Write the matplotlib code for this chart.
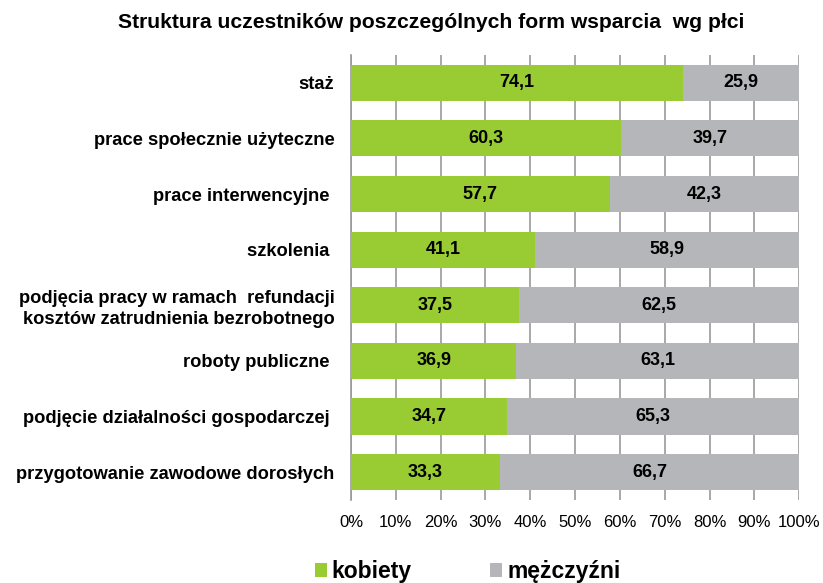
import numpy as np
import matplotlib.pyplot as plt
from matplotlib.ticker import FuncFormatter

plt.rcParams['font.family'] = ['Liberation Sans', 'DejaVu Sans']

# dane
kategorie = ['staż', 'prace społecznie użyteczne', 'prace interwencyjne ', 'szkolenia ',
             'podjęcia pracy w ramach  refundacji\nkosztów zatrudnienia bezrobotnego',
             'roboty publiczne ', 'podjęcie działalności gospodarczej ',
             'przygotowanie zawodowe dorosłych']
kobiety = [74.1, 60.3, 57.7, 41.1, 37.5, 36.9, 34.7, 33.3]
mezczyzni = [25.9, 39.7, 42.3, 58.9, 62.5, 63.1, 65.3, 66.7]

zielony = '#99cc33'
szary = '#b4b6b9'

fig = plt.figure(figsize=(8.23, 5.83), dpi=100)
ax = fig.add_axes([0.4265, 0.1424, 0.5445, 0.7633])

y = np.arange(len(kategorie))
b1 = ax.barh(y, kobiety, height=0.65, color=zielony, label='kobiety', zorder=3)
b2 = ax.barh(y, mezczyzni, left=kobiety, height=0.65, color=szary, label='mężczyźni', zorder=3)

for i in range(len(kategorie)):
    ax.text(kobiety[i] / 2, y[i], f'{kobiety[i]:.1f}'.replace('.', ','), ha='center', va='center',
            fontsize=13, fontweight='bold', zorder=4)
    ax.text(kobiety[i] + mezczyzni[i] / 2, y[i], f'{mezczyzni[i]:.1f}'.replace('.', ','),
            ha='center', va='center', fontsize=13, fontweight='bold', zorder=4)

ax.set_xlim(0, 100)
ax.set_ylim(len(kategorie) - 0.5, -0.5)
ax.set_yticks(y)
ax.set_yticklabels(kategorie, fontsize=13.2, fontweight='bold', linespacing=1.3)
ax.set_xticks(np.arange(0, 101, 10))
ax.xaxis.set_major_formatter(FuncFormatter(lambda v, p: f'{v:.0f}%'))
ax.tick_params(axis='x', length=0, labelsize=12, pad=11)
ax.tick_params(axis='y', length=0, pad=12)
ax.grid(axis='x', color='#999999', linewidth=1.2, zorder=0)
for s in ['top', 'right', 'bottom']:
    ax.spines[s].set_visible(False)
ax.spines['left'].set_color('#999999')
ax.spines['left'].set_linewidth(1.2)

fig.text(0.524, 0.962, 'Struktura uczestników poszczególnych form wsparcia  wg płci',
         ha='center', va='center', fontsize=15.2, fontweight='bold')

fig.legend(handles=[b1, b2], loc='center', bbox_to_anchor=(0.568, 0.02), ncol=2, frameon=False,
           prop={'size': 16.5, 'weight': 'bold'}, handlelength=0.55, handleheight=0.55,
           handletextpad=0.2, columnspacing=3.4)

fig.savefig('out.png', dpi=100)
